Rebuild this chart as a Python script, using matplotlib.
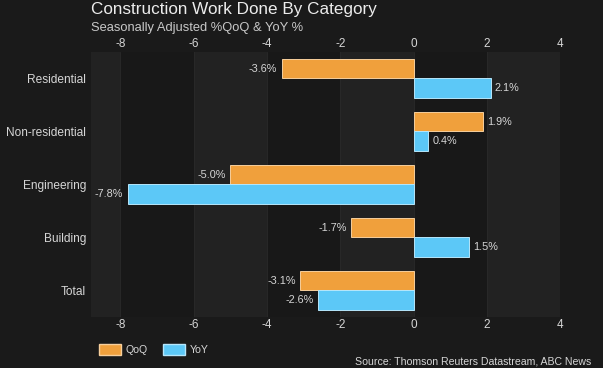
import matplotlib
matplotlib.use('Agg')
import matplotlib.pyplot as plt
import numpy as np
from matplotlib.patches import Patch

plt.rcParams['font.family'] = ['Liberation Sans', 'DejaVu Sans']

# Data
categories = ['Residential', 'Non-residential', 'Engineering', 'Building', 'Total']
qoq = [-3.6, 1.9, -5.0, -1.7, -3.1]
yoy = [2.1, 0.4, -7.8, 1.5, -2.6]
xticks = [-8, -6, -4, -2, 0, 2, 4]

fig_bg = '#1a1a1a'
band_light = '#222222'
band_dark = '#181818'
orange = '#F0A03C'
blue = '#5CC8F7'
text_col = '#d6d6d6'

fig = plt.figure(figsize=(6.03, 3.68), dpi=100, facecolor=fig_bg)
ax = fig.add_axes([0.151, 0.1386, 0.778, 0.7201])
ax.set_facecolor(band_dark)

# alternating background bands
for lo, hi in [(-8.8, -8), (-6, -4), (-2, 0), (2, 4)]:
    ax.axvspan(lo, hi, color=band_light, zorder=0, lw=0)
for t in xticks:
    ax.axvline(t, color='#2a2a2a', lw=0.6, zorder=0.5)

y = np.arange(len(categories))
h = 0.37
b1 = ax.barh(y - h / 2, qoq, height=h, color=orange, edgecolor='#f7cf9c',
             linewidth=0.7, zorder=2, label='QoQ')
b2 = ax.barh(y + h / 2, yoy, height=h, color=blue, edgecolor='#b5e6fb',
             linewidth=0.7, zorder=2, label='YoY')

for bars, vals in [(b1, qoq), (b2, yoy)]:
    for bar, v in zip(bars, vals):
        yc = bar.get_y() + bar.get_height() / 2
        off = 0.12 if v >= 0 else -0.12
        ax.text(v + off, yc, f'{v:.1f}%', va='center',
                ha='left' if v >= 0 else 'right',
                color=text_col, fontsize=7.8)

ax.set_xlim(-8.8, 4)
ax.set_ylim(len(categories) - 0.5, -0.5)
ax.set_xticks(xticks)
ax.set_xticklabels([str(t) for t in xticks])
ax.set_yticks(y)
ax.set_yticklabels(categories)
ax.tick_params(axis='x', top=True, labeltop=True, length=0, colors=text_col,
               labelsize=8.5, pad=1.5)
ax.tick_params(axis='y', length=0, colors=text_col, labelsize=8.6, pad=3.5)
for s in ax.spines.values():
    s.set_visible(False)

fig.text(0.151, 0.975, 'Construction Work Done By Category', color='#ececec',
         fontsize=12.3, ha='left', va='center')
fig.text(0.151, 0.925, 'Seasonally Adjusted %QoQ & YoY %', color='#c8c8c8',
         fontsize=9.3, ha='left', va='center')

handles = [Patch(facecolor=orange, edgecolor='#f7cf9c', label='QoQ'),
           Patch(facecolor=blue, edgecolor='#b5e6fb', label='YoY')]
fig.legend(handles=handles, loc='center left', bbox_to_anchor=(0.148, 0.051),
           ncol=2, frameon=False, fontsize=7.6, labelcolor=text_col,
           handlelength=2.1, handleheight=1.2, columnspacing=1.5,
           handletextpad=0.4)

fig.text(0.98, 0.018, 'Source: Thomson Reuters Datastream, ABC News',
         color=text_col, fontsize=7.6, ha='right', va='center')

plt.savefig('out.png', dpi=100, facecolor=fig_bg)
